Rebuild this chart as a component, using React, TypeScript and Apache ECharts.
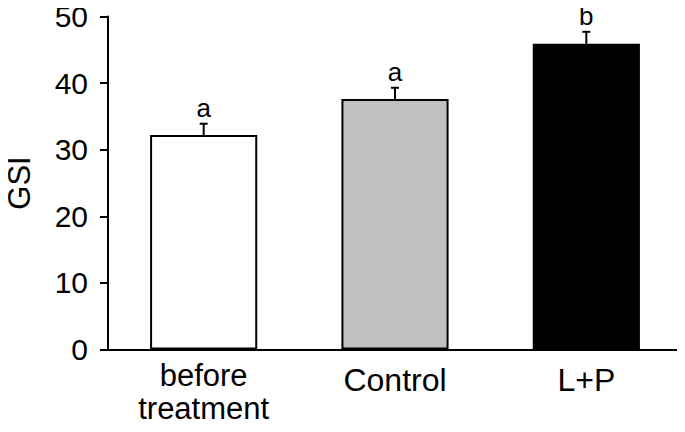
import React, { useEffect, useRef } from "react";
import * as echarts from "echarts";

const categories = ["before\ntreatment", "Control", "L+P"];
const means = [32.2, 37.6, 45.9];
const errors = [1.7, 1.7, 1.8];
const letters = ["a", "a", "b"];
const barColors = ["#ffffff", "#c0c0c0", "#000000"];
const yTicks = [0, 10, 20, 30, 40, 50];

const FONT = "'Liberation Sans', Arial, sans-serif";

export default function App() {
  const ref = useRef<HTMLDivElement>(null);
  useEffect(() => {
    if (!ref.current) return;
    const chart = echarts.init(ref.current, undefined, { renderer: "svg" });
    chart.setOption({
      animation: false,
      backgroundColor: "#ffffff",
      grid: {
        left: 108,
        right: 3,
        top: 16.5,
        bottom: 82.5,
        containLabel: false,
        outerBoundsMode: "none",
      },
      xAxis: {
        type: "category",
        data: categories,
        axisLine: { lineStyle: { color: "#000", width: 2 } },
        axisTick: { show: false },
        axisLabel: {
          interval: 0,
          margin: 9,
          fontFamily: FONT,
          fontSize: 31,
          color: "#000",
          formatter: (v: string) =>
            v.indexOf("\n") >= 0
              ? v.split("\n").map((s) => `{m|${s}}`).join("\n")
              : `{s|${v}}`,
          rich: {
            m: { fontFamily: FONT, fontSize: 31, lineHeight: 33, color: "#000" },
            s: { fontFamily: FONT, fontSize: 32, lineHeight: 42, color: "#000" },
          },
        },
      },
      yAxis: {
        type: "value",
        min: yTicks[0],
        max: yTicks[yTicks.length - 1],
        interval: 10,
        name: "GSI",
        nameLocation: "middle",
        nameGap: 73,
        nameRotate: 90,
        nameTextStyle: { fontFamily: FONT, fontSize: 31, color: "#000" },
        axisLine: { show: true, lineStyle: { color: "#000", width: 2 } },
        axisTick: { show: true, length: 8, lineStyle: { color: "#000", width: 2 } },
        splitLine: { show: false },
        axisLabel: { margin: 20, fontFamily: FONT, fontSize: 30, color: "#000" },
      },
      series: [
        {
          type: "bar",
          barWidth: "56%",
          data: means.map((v, i) => ({
            value: v,
            itemStyle: { color: barColors[i], borderColor: "#000", borderWidth: 2 },
          })),
          z: 2,
        },
        {
          type: "custom",
          z: 3,
          data: means.map((v, i) => [i, v, errors[i]]),
          renderItem: (params: any, api: any) => {
            const x = api.value(0);
            const m = api.value(1);
            const e = api.value(2);
            const p0 = api.coord([x, m]);
            const p1 = api.coord([x, m + e]);
            const idx = params.dataIndex;
            return {
              type: "group",
              children: [
                {
                  type: "line",
                  shape: { x1: p0[0], y1: p0[1], x2: p1[0], y2: p1[1] },
                  style: { stroke: "#000", lineWidth: 2 },
                },
                {
                  type: "line",
                  shape: { x1: p1[0] - 4, y1: p1[1], x2: p1[0] + 4, y2: p1[1] },
                  style: { stroke: "#000", lineWidth: 2 },
                },
                {
                  type: "text",
                  x: p1[0],
                  y: p1[1] - 3,
                  style: {
                    text: letters[idx],
                    fontFamily: FONT,
                    fontSize: 26,
                    fill: "#000",
                    align: "center",
                    verticalAlign: "bottom",
                  },
                },
              ],
            };
          },
        },
      ],
    });
    return () => chart.dispose();
  }, []);
  return <div ref={ref} style={{ width: 685, height: 432, margin: -8 }} />;
}
